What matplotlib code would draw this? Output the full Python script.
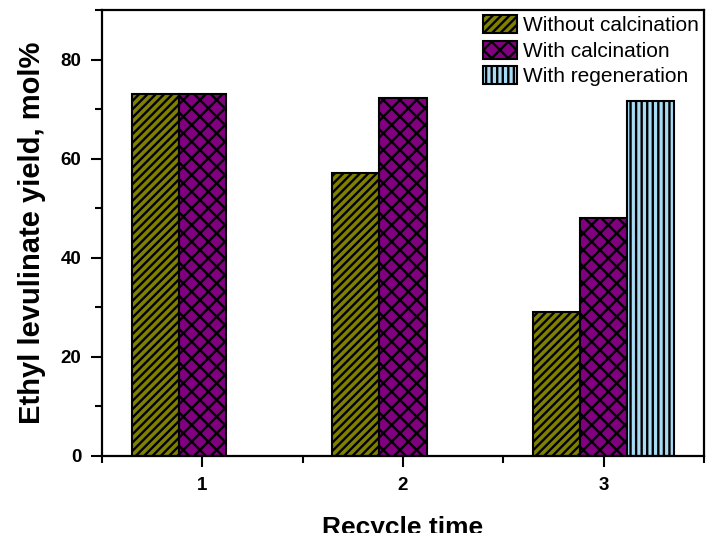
import matplotlib
matplotlib.use("Agg")
import matplotlib.pyplot as plt
import numpy as np
from matplotlib.ticker import MultipleLocator

plt.rcParams['font.family'] = ['Liberation Sans', 'DejaVu Sans']
plt.rcParams['hatch.linewidth'] = 1.7
plt.rcParams['hatch.color'] = 'black'

recycle = [1, 2, 3]
without_calc = [73.0, 57.2, 29.0]
with_calc = [73.0, 72.2, 48.0]
regen_x = [3]
with_regen = [71.6]
series_labels = ["Without calcination", "With calcination", "With regeneration"]

fig = plt.figure(figsize=(7.06, 5.33), dpi=100)
ax = fig.add_axes([0.1445, 0.1445, 0.8525, 0.8365])

w = 0.235
x = np.array(recycle, dtype=float)
ax.bar(x - w, without_calc, w, color='#808000', edgecolor='black', linewidth=1.5,
       hatch='////', label=series_labels[0])
ax.bar(x, with_calc, w, color='#800080', edgecolor='black', linewidth=1.5,
       hatch='xx', label=series_labels[1])
ax.bar(np.array(regen_x, dtype=float) + w, with_regen, w, color='#a8dcf5',
       edgecolor='black', linewidth=1.5, hatch='|||', label=series_labels[2])

ax.set_xlim(0.5, 3.5)
ax.set_ylim(0, 90)
ax.set_xticks(recycle)
ax.set_yticks([0, 20, 40, 60, 80])
ax.xaxis.set_minor_locator(MultipleLocator(0.5))
ax.yaxis.set_minor_locator(MultipleLocator(10))

for s in ax.spines.values():
    s.set_linewidth(1.6)

ax.tick_params(which='major', direction='out', length=8, width=1.5, labelsize=13.5, pad=7)
ax.tick_params(which='minor', direction='out', length=5, width=1.5)
for lab in ax.get_xticklabels() + ax.get_yticklabels():
    lab.set_fontweight('bold')

ax.set_ylabel("Ethyl levulinate yield, mol%", fontsize=21, fontweight='bold', labelpad=10)
ax.set_xlabel("Recycle time", fontsize=19, fontweight='bold', labelpad=16)

ax.legend(loc='upper right', frameon=False, fontsize=15, handlelength=1.6,
          handleheight=0.95, handletextpad=0.3, labelspacing=0.25,
          borderaxespad=0.05, borderpad=0.2)

fig.savefig("out.png", dpi=100)
